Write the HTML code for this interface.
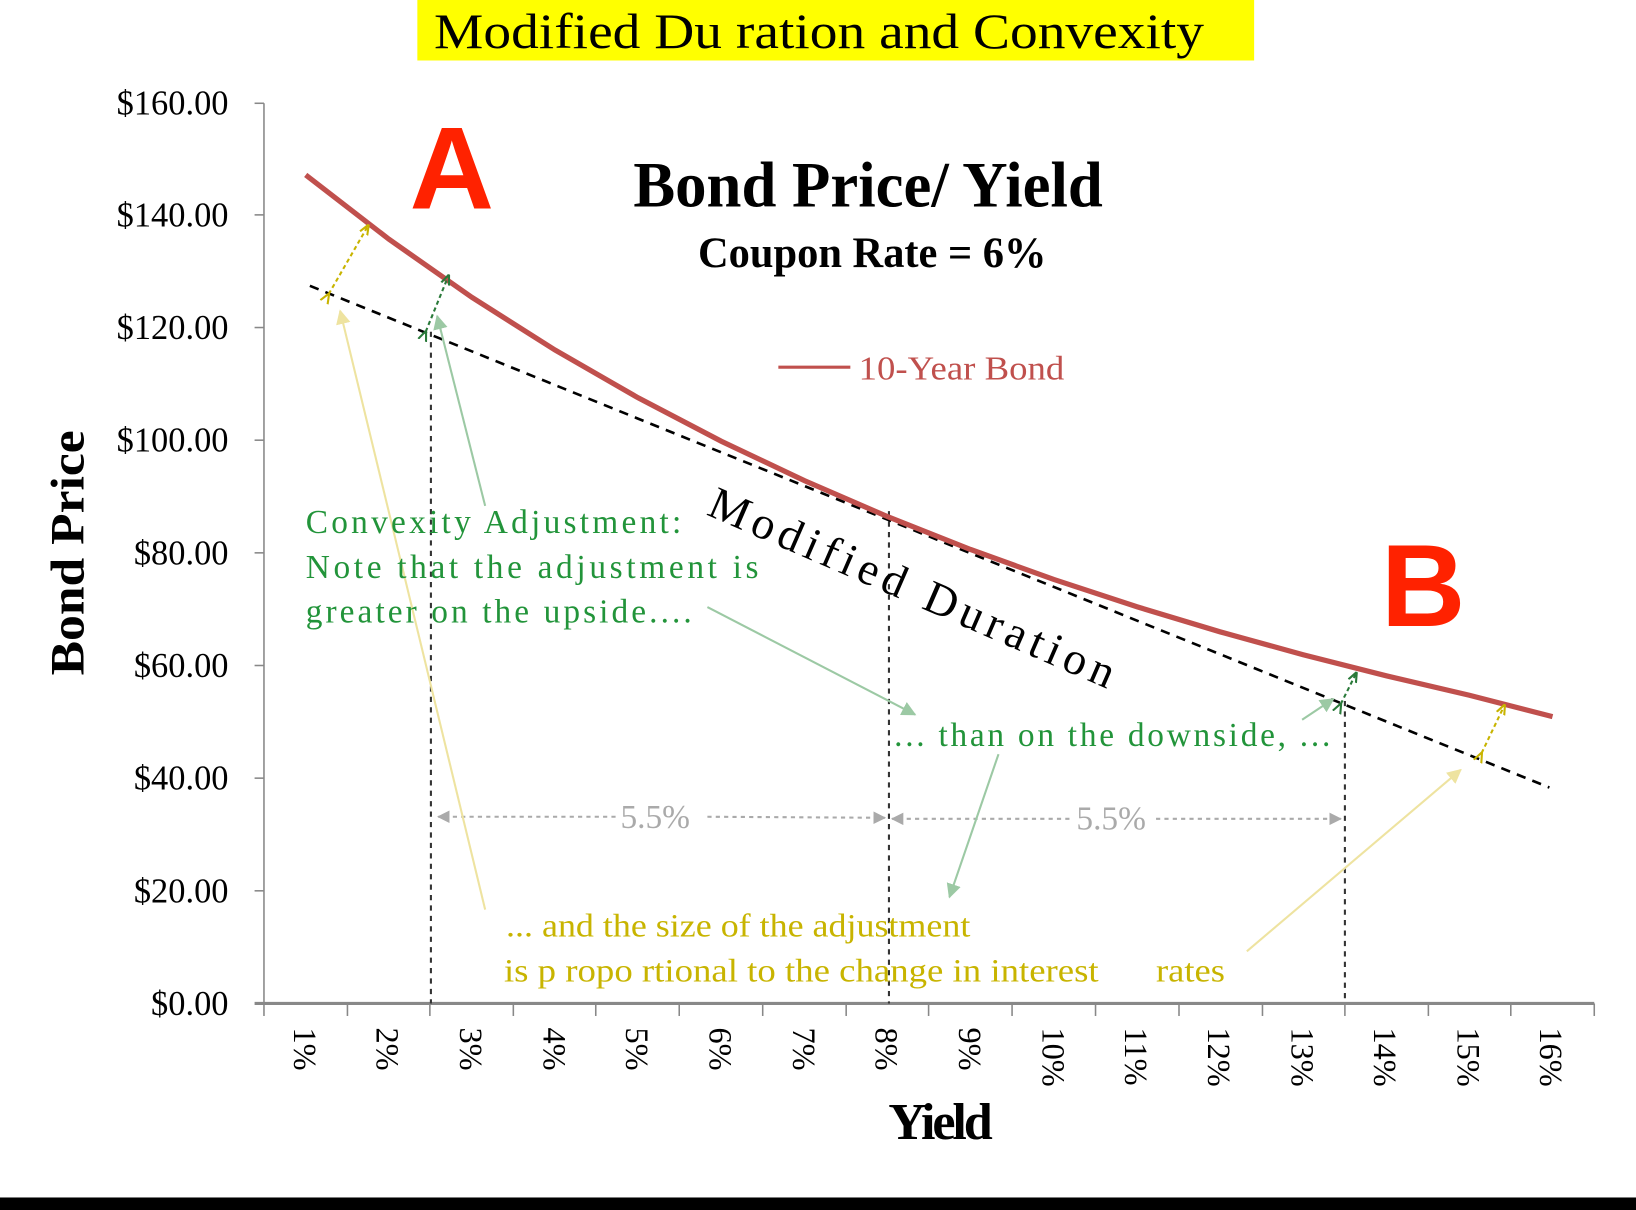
<!DOCTYPE html>
<html><head><meta charset="utf-8"><style>
html,body{margin:0;padding:0;background:#fff;width:1636px;height:1210px;overflow:hidden}
svg{display:block}
text{font-family:"Liberation Serif",serif}
</style></head><body>
<svg width="1636" height="1210" viewBox="0 0 1568 1160" preserveAspectRatio="none" xmlns="http://www.w3.org/2000/svg">
<defs>
<marker id="ay" viewBox="0 0 10 10" refX="9" refY="5" markerWidth="7" markerHeight="7" orient="auto"><path d="M0,0 L10,5 L0,10 z" fill="#eee3a0"/></marker>
<marker id="ag" viewBox="0 0 10 10" refX="9" refY="5" markerWidth="7" markerHeight="7" orient="auto"><path d="M0,0 L10,5 L0,10 z" fill="#9cc9a4"/></marker>
<marker id="agr" viewBox="0 0 10 10" refX="9" refY="5" markerWidth="6" markerHeight="6" orient="auto"><path d="M0,0 L10,5 L0,10 z" fill="#aaa"/></marker>
<marker id="sy" viewBox="0 0 10 10" refX="9" refY="5" markerWidth="5" markerHeight="5" orient="auto"><path d="M0,1 L10,5 L0,9" fill="none" stroke="#c8b400" stroke-width="2"/></marker>
<marker id="sg" viewBox="0 0 10 10" refX="9" refY="5" markerWidth="5" markerHeight="5" orient="auto"><path d="M0,1 L10,5 L0,9" fill="none" stroke="#2a7a3a" stroke-width="2"/></marker>
</defs>
<rect x="400" y="0" width="802" height="58" fill="#ffff00"/>
<text x="785" y="46" font-size="48" text-anchor="middle" textLength="738" lengthAdjust="spacingAndGlyphs">Modified Du ration and Convexity</text>

<g stroke="#888" stroke-width="1.5">
<line x1="253" y1="99" x2="253" y2="962"/>
<line x1="244" y1="962" x2="1528" y2="962" stroke-width="3"/>
<line x1="244" y1="99" x2="253" y2="99"/><line x1="244" y1="206" x2="253" y2="206"/><line x1="244" y1="314" x2="253" y2="314"/><line x1="244" y1="422" x2="253" y2="422"/><line x1="244" y1="530" x2="253" y2="530"/><line x1="244" y1="638" x2="253" y2="638"/><line x1="244" y1="746" x2="253" y2="746"/><line x1="244" y1="854" x2="253" y2="854"/>
</g>
<g stroke="#888" stroke-width="1.5">
<line x1="253" y1="962" x2="253" y2="974"/><line x1="333" y1="962" x2="333" y2="974"/><line x1="412" y1="962" x2="412" y2="974"/><line x1="492" y1="962" x2="492" y2="974"/><line x1="571" y1="962" x2="571" y2="974"/><line x1="651" y1="962" x2="651" y2="974"/><line x1="731" y1="962" x2="731" y2="974"/><line x1="811" y1="962" x2="811" y2="974"/><line x1="890" y1="962" x2="890" y2="974"/><line x1="970" y1="962" x2="970" y2="974"/><line x1="1050" y1="962" x2="1050" y2="974"/><line x1="1130" y1="962" x2="1130" y2="974"/><line x1="1210" y1="962" x2="1210" y2="974"/><line x1="1289" y1="962" x2="1289" y2="974"/><line x1="1369" y1="962" x2="1369" y2="974"/><line x1="1448" y1="962" x2="1448" y2="974"/><line x1="1528" y1="962" x2="1528" y2="974"/>
</g>
<g font-size="33" text-anchor="end">
<text x="219" y="110">$160.00</text><text x="219" y="217">$140.00</text><text x="219" y="325">$120.00</text><text x="219" y="433">$100.00</text><text x="219" y="541">$80.00</text><text x="219" y="649">$60.00</text><text x="219" y="757">$40.00</text><text x="219" y="865">$20.00</text><text x="219" y="973">$0.00</text>
</g>
<g font-size="31">
<text transform="translate(282,985) rotate(90)">1%</text>
<text transform="translate(361,985) rotate(90)">2%</text>
<text transform="translate(441,985) rotate(90)">3%</text>
<text transform="translate(521,985) rotate(90)">4%</text>
<text transform="translate(600,985) rotate(90)">5%</text>
<text transform="translate(680,985) rotate(90)">6%</text>
<text transform="translate(760,985) rotate(90)">7%</text>
<text transform="translate(839,985) rotate(90)">8%</text>
<text transform="translate(919,985) rotate(90)">9%</text>
<text transform="translate(999,985) rotate(90)">10%</text>
<text transform="translate(1078,985) rotate(90)">11%</text>
<text transform="translate(1158,985) rotate(90)">12%</text>
<text transform="translate(1238,985) rotate(90)">13%</text>
<text transform="translate(1317,985) rotate(90)">14%</text>
<text transform="translate(1397,985) rotate(90)">15%</text>
<text transform="translate(1476,985) rotate(90)">16%</text>
</g>
<text x="900" y="1092" font-size="50" font-weight="bold" text-anchor="middle" letter-spacing="-3">Yield</text>
<text transform="translate(80,530) rotate(-90)" font-size="46" font-weight="bold" text-anchor="middle" textLength="235" lengthAdjust="spacingAndGlyphs">Bond Price</text>

<g stroke="#333" stroke-width="2" stroke-dasharray="5,5">
<line x1="413" y1="318" x2="413" y2="962"/>
<line x1="852" y1="490" x2="852" y2="962"/>
<line x1="1289" y1="672" x2="1289" y2="962"/>
</g>

<line x1="297" y1="274" x2="1485" y2="755" stroke="#000" stroke-width="2.5" stroke-dasharray="9,7"/>
<polyline fill="none" stroke="#c0504d" stroke-width="5" points="293,167.7 372.7,229.3 452.3,285.1 532,335.6 611.7,381.4 691.3,423 771,460.8 850.7,495.3 930.3,526.8 1010,555.5 1089.7,581.7 1169.3,605.7 1249,627.7 1328.7,647.9 1408.3,666.5 1488,687"/>

<line x1="315" y1="282" x2="353" y2="216" stroke="#c8b400" stroke-width="2" stroke-dasharray="4,3" marker-end="url(#sy)" marker-start="url(#sy)"/>
<line x1="408" y1="318" x2="430" y2="264" stroke="#2a7a3a" stroke-width="2" stroke-dasharray="4,3" marker-end="url(#sg)" marker-start="url(#sg)"/>
<line x1="1285" y1="675" x2="1300" y2="645" stroke="#2a7a3a" stroke-width="2" stroke-dasharray="4,3" marker-end="url(#sg)" marker-start="url(#sg)"/>
<line x1="1420" y1="722" x2="1442" y2="676" stroke="#c8b400" stroke-width="2" stroke-dasharray="4,3" marker-end="url(#sy)" marker-start="url(#sy)"/>

<g stroke="#aaa" stroke-width="2" stroke-dasharray="4,4">
<line x1="590" y1="783" x2="420" y2="783" marker-end="url(#agr)"/>
<line x1="678" y1="783" x2="848" y2="784" marker-end="url(#agr)"/>
<line x1="1025" y1="785" x2="855" y2="785" marker-end="url(#agr)"/>
<line x1="1108" y1="785" x2="1285" y2="785" marker-end="url(#agr)"/>
</g>
<text x="628" y="794" font-size="32" fill="#aaa" text-anchor="middle">5.5%</text>
<text x="1065" y="795" font-size="32" fill="#aaa" text-anchor="middle">5.5%</text>

<line x1="465" y1="872" x2="326" y2="298" stroke="#eee3a0" stroke-width="2" marker-end="url(#ay)"/>
<line x1="1195" y1="912" x2="1400" y2="738" stroke="#eee3a0" stroke-width="2" marker-end="url(#ay)"/>
<line x1="465" y1="485" x2="419" y2="303" stroke="#9cc9a4" stroke-width="2" marker-end="url(#ag)"/>
<line x1="678" y1="582" x2="877" y2="685" stroke="#9cc9a4" stroke-width="2" marker-end="url(#ag)"/>
<line x1="957" y1="723" x2="910" y2="860" stroke="#9cc9a4" stroke-width="2" marker-end="url(#ag)"/>
<line x1="1248" y1="690" x2="1278" y2="670" stroke="#9cc9a4" stroke-width="2" marker-end="url(#ag)"/>

<g fill="#22943a" font-size="32">
<text x="293" y="511" textLength="360" lengthAdjust="spacing">Convexity Adjustment:</text>
<text x="293" y="554" textLength="434" lengthAdjust="spacing">Note that the adjustment is</text>
<text x="293" y="597" textLength="370" lengthAdjust="spacing">greater on the upside....</text>
<text x="857" y="715" textLength="418" lengthAdjust="spacing">... than on the downside, ...</text>
</g>
<g fill="#c8b400" font-size="31">
<text x="485" y="898" textLength="445" lengthAdjust="spacingAndGlyphs">... and the size of the adjustment</text>
<text x="483" y="941" textLength="570" lengthAdjust="spacingAndGlyphs">is p ropo rtional  to the change in interest</text>
<text x="1108" y="941" textLength="66" lengthAdjust="spacingAndGlyphs">rates</text>
</g>
<text transform="translate(676,493) rotate(23.5)" font-size="44" textLength="420" lengthAdjust="spacing">Modified Duration</text>

<text x="433" y="200" font-size="112" font-weight="bold" fill="#ff2200" text-anchor="middle" style="font-family:'Liberation Sans',sans-serif">A</text>
<text x="1364" y="600" font-size="112" font-weight="bold" fill="#ff2200" text-anchor="middle" style="font-family:'Liberation Sans',sans-serif">B</text>

<text x="832" y="198" font-size="62" font-weight="bold" text-anchor="middle" textLength="450" lengthAdjust="spacingAndGlyphs">Bond Price/ Yield</text>
<text x="836" y="256" font-size="42" font-weight="bold" text-anchor="middle" textLength="334" lengthAdjust="spacingAndGlyphs">Coupon Rate = 6%</text>

<line x1="746" y1="352" x2="815" y2="352" stroke="#c0504d" stroke-width="3"/>
<text x="823" y="364" font-size="32" fill="#c0504d" textLength="197" lengthAdjust="spacingAndGlyphs">10-Year Bond</text>

<rect x="0" y="1148" width="1568" height="12" fill="#000"/>
</svg>
</body></html>
